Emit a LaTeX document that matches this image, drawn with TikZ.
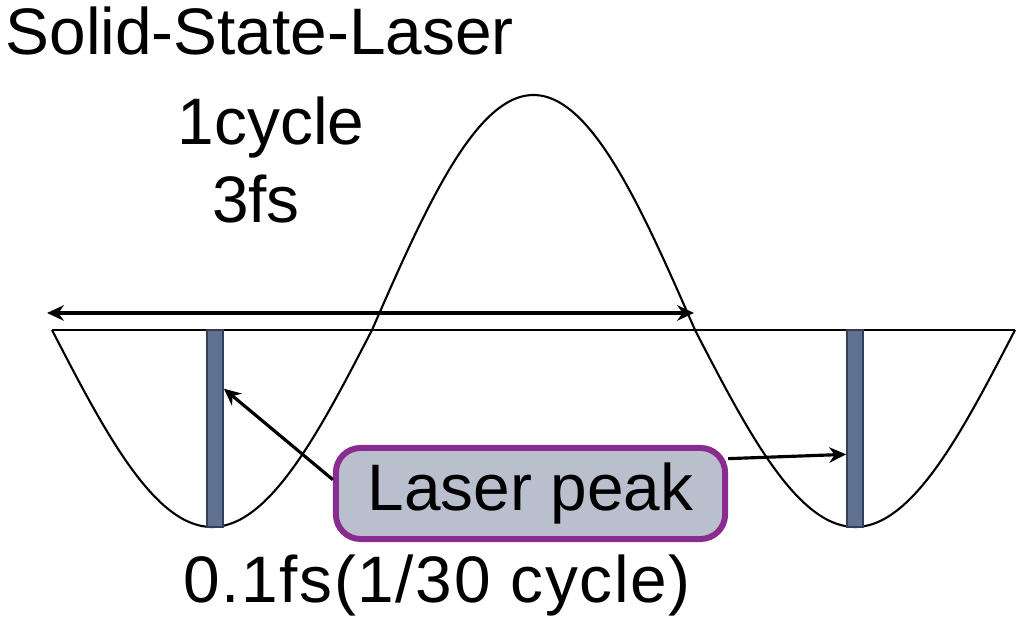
\documentclass[tikz,border=0pt]{standalone}
\usepackage{fontspec}
\setmainfont{Liberation Sans}
\usetikzlibrary{arrows.meta,calc}
\definecolor{barfill}{HTML}{5E7191}
\definecolor{bardraw}{HTML}{343E56}
\definecolor{boxfill}{HTML}{B9BFCC}
\definecolor{boxdraw}{HTML}{8A2C8F}
\begin{document}
\begin{tikzpicture}[x=0.01cm,y=-0.01cm,
  txt/.style={font=\fontsize{18.7}{22}\selectfont, inner sep=0},
  wave/.style={line width=0.6pt},
  pulsebar/.style={draw=bardraw, fill=barfill, line width=0.5pt, minimum width=0.16cm, minimum height=1.97cm, inner sep=0},
  peakbox/.style={draw=boxdraw, fill=boxfill, line width=1.7pt, rounded corners=7pt, minimum width=3.89cm, minimum height=0.91cm, inner sep=0, font=\fontsize{18.7}{22}\selectfont},
  conn/.style={line width=0.9pt, -{Stealth[length=4.8pt,width=4.4pt]}},
  span/.style={line width=0.9pt, {Stealth[length=4.8pt,width=4.4pt]}-{Stealth[length=4.8pt,width=4.4pt]}}]
\useasboundingbox (0,0) rectangle (1024,622);
% wave
\draw[wave] plot[domain=52:372,samples=80,smooth] (\x,{330+197*sin(0.5625*(\x-52))});
\draw[wave] plot[domain=372:695,samples=80,smooth] (\x,{330-235*sin(0.55728*(\x-372))});
\draw[wave] plot[domain=695:1015,samples=80,smooth] (\x,{330+197*sin(0.5625*(\x-695))});
% baseline
\coordinate (bl) at (52,330);
\coordinate (br) at (1015,330);
\draw[wave] (bl) -- (br);
% one-cycle span
\coordinate (al) at (47,313);
\coordinate (ar) at (694,313);
\draw[span] (al) -- (ar);
% pulse bars
\node[pulsebar] (barL) at (215,428.5) {};
\node[pulsebar] (barR) at (855,428.5) {};
% texts
\node[txt, anchor=base west] (title) at (5,55) {Solid-State-Laser};
\node[txt, anchor=base] (cyc) at (271,145) {1cycle};
\node[txt, anchor=base] (fs) at (256,223) {3fs};
\node[txt, anchor=base] (dur) at (437,603) {\addfontfeature{LetterSpace=2.5}0.1fs(1/30 cycle)};
% laser peak box
\node[peakbox] (peak) at (530.5,493.5) {Laser peak};
\draw[conn] (peak.176) -- ($(barL.north east)!0.3!(barL.south east)$);
\draw[conn] (peak.10) -- ($(barR.north west)!0.63!(barR.south west)$);
\end{tikzpicture}
\end{document}
